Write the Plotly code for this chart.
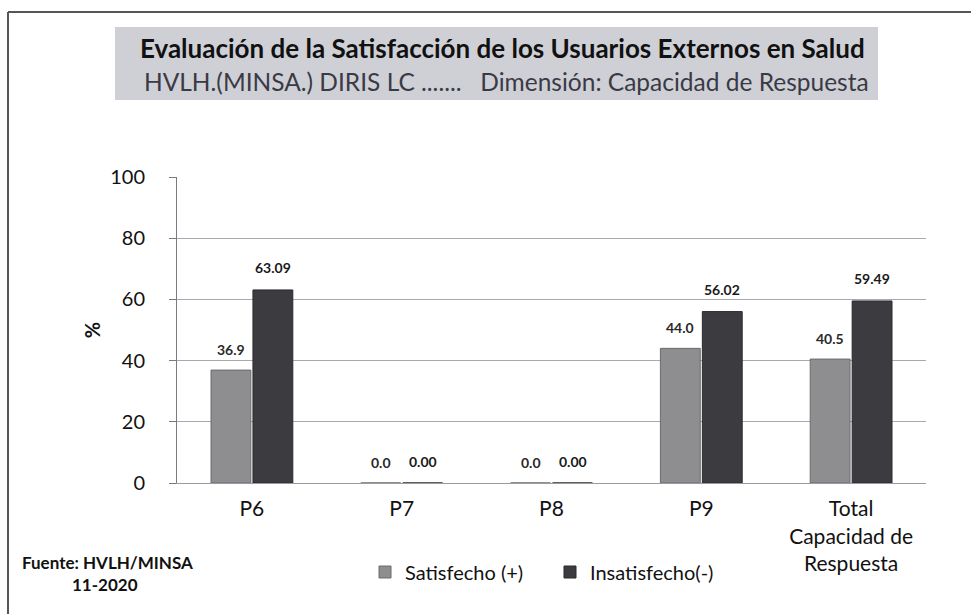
import plotly.graph_objects as go

# Categories and values (percent)
categories = ["P6", "P7", "P8", "P9", "Total<br>Capacidad de<br>Respuesta"]
satisfecho = [36.9, 0.0, 0.0, 44.0, 40.5]
insatisfecho = [63.09, 0.00, 0.00, 56.02, 59.49]
satisfecho_labels = ["36.9", "0.0", "0.0", "44.0", "40.5"]
insatisfecho_labels = ["63.09", "0.00", "0.00", "56.02", "59.49"]
y_ticks = [0, 20, 40, 60, 80, 100]

FONT = "Lato"
LIGHT = "#8e8e90"
DARK = "#3c3c40"

fig = go.Figure()
fig.add_trace(go.Bar(
    name="Satisfecho (+)", x=categories, y=satisfecho,
    marker=dict(color=LIGHT, line=dict(color="#6a6a6e", width=1)),
))
fig.add_trace(go.Bar(
    name="Insatisfecho(-)", x=categories, y=insatisfecho,
    marker=dict(color=DARK, line=dict(color="#2a2a2e", width=1)),
))

# value labels above each bar
annotations = []
for cat, v, t in zip(categories, satisfecho, satisfecho_labels):
    annotations.append(dict(x=cat, y=v, xref="x", yref="y", text=f"<b>{t}</b>",
                            showarrow=False, xshift=-21, yshift=21,
                            font=dict(family=FONT, size=14, color="#2a2a2a")))
for cat, v, t in zip(categories, insatisfecho, insatisfecho_labels):
    annotations.append(dict(x=cat, y=v, xref="x", yref="y", text=f"<b>{t}</b>",
                            showarrow=False, xshift=21, yshift=22,
                            font=dict(family=FONT, size=14, color="#1a1a1a")))

# title block
annotations.append(dict(
    xref="paper", yref="paper", x=(502 - 177) / 749, y=1 + (177 - 48) / 306,
    text="<b>Evaluación de la Satisfacción de los Usuarios Externos en Salud</b>",
    showarrow=False, xanchor="center", yanchor="middle",
    font=dict(family=FONT, size=26, color="#111111")))
annotations.append(dict(
    xref="paper", yref="paper", x=(506 - 177) / 749, y=1 + (177 - 81) / 306,
    text="HVLH.(MINSA.) DIRIS LC .......   Dimensión: Capacidad de Respuesta",
    showarrow=False, xanchor="center", yanchor="middle",
    font=dict(family=FONT, size=24.5, color="#3a3a46")))

# source note
annotations.append(dict(
    xref="paper", yref="paper", x=(107 - 177) / 749, y=-(562 - 483) / 306,
    text="<b>Fuente: HVLH/MINSA</b>", showarrow=False,
    xanchor="center", yanchor="middle",
    font=dict(family=FONT, size=17, color="#111111")))
annotations.append(dict(
    xref="paper", yref="paper", x=(105 - 177) / 749, y=-(584 - 483) / 306,
    text="<b>11-2020</b>", showarrow=False,
    xanchor="center", yanchor="middle",
    font=dict(family=FONT, size=17, color="#111111")))

shapes = [
    # grey title box
    dict(type="rect", xref="paper", yref="paper",
         x0=(115 - 177) / 749, x1=(878 - 177) / 749,
         y0=1 + (177 - 100) / 306, y1=1 + (177 - 27) / 306,
         fillcolor="#cfd0d6", line=dict(width=0), layer="below"),
    # outer frame (top and left edges)
    dict(type="line", xref="paper", yref="paper",
         x0=(8 - 177) / 749, x1=(971 - 177) / 749,
         y0=1 + (177 - 12) / 306, y1=1 + (177 - 12) / 306,
         line=dict(color="#55555c", width=2)),
    dict(type="line", xref="paper", yref="paper",
         x0=(8 - 177) / 749, x1=(8 - 177) / 749,
         y0=1 + (177 - 12) / 306, y1=-(614 - 483) / 306,
         line=dict(color="#55555c", width=2)),
]

fig.update_layout(
    width=971, height=614,
    margin=dict(l=177, r=45, t=177, b=131),
    paper_bgcolor="white", plot_bgcolor="white",
    barmode="group", bargap=0.44, bargroupgap=0.05,
    font=dict(family=FONT, size=20, color="#111111"),
    showlegend=True,
    legend=dict(orientation="h", x=(365 - 177) / 749, y=-(572 - 483) / 306,
                xanchor="left", yanchor="middle",
                font=dict(family=FONT, size=20, color="#111111"),
                itemwidth=30, traceorder="normal",
                entrywidth=140, entrywidthmode="pixels"),
    annotations=annotations,
    shapes=shapes,
)
fig.update_xaxes(
    showline=True, linecolor="#9a9aa2", linewidth=1,
    tickfont=dict(family=FONT, size=21, color="#111111"),
    ticks="", showgrid=False, ticklabelstandoff=7,
)
fig.update_yaxes(
    range=[0, 100], tickvals=y_ticks,
    showline=True, linecolor="#7a7a84", linewidth=1,
    ticks="outside", ticklen=7, tickcolor="#7a7a84",
    showgrid=True, gridcolor="#a8a8b0", gridwidth=1,
    tickfont=dict(family=FONT, size=20, color="#111111"),
    ticklabelstandoff=20,
    title=dict(text="<b>%</b>", font=dict(family=FONT, size=20, color="#111111"),
               standoff=4),
    zeroline=False,
)

fig.write_html("out.html")
